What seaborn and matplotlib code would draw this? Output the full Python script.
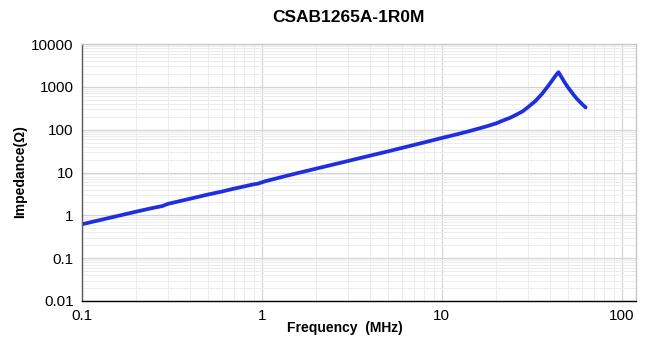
import numpy as np
import pandas as pd
import seaborn as sns
import matplotlib
matplotlib.use("Agg")
from matplotlib import pyplot as plt
from matplotlib.ticker import LogLocator, FixedLocator, FixedFormatter, NullFormatter

# impedance curve
freq_mhz = [0.1, 0.15, 0.2, 0.25, 0.28, 0.3, 0.4, 0.5, 0.6, 0.7, 0.8, 0.9,
            0.95, 1.0, 1.05, 1.5, 2, 3, 4, 5, 6, 7, 8, 10, 12, 14, 16, 18,
            20, 22, 24, 26, 28, 30, 33, 36, 39, 41, 43, 44.5, 46, 48, 50,
            53, 56, 60, 63]
impedance = [0.62, 0.92, 1.22, 1.5, 1.65, 1.85, 2.45, 3.05, 3.6, 4.2, 4.75,
             5.3, 5.5, 5.9, 6.3, 9.2, 12.3, 18.5, 24.8, 31, 37.5, 44, 50.5,
             64, 77, 91, 106, 122, 140, 165, 190, 225, 265, 330, 460, 680,
             1050, 1400, 1850, 2200, 1750, 1300, 1000, 720, 540, 400, 330]

x_ticks = [0.1, 1, 10, 100]
x_labels = ["0.1", "1", "10", "100"]
y_ticks = [0.01, 0.1, 1, 10, 100, 1000, 10000]
y_labels = ["0.01", "0.1", "1", "10", "100", "1000", "10000"]

df = pd.DataFrame({"Frequency": freq_mhz, "Impedance": impedance})

sns.set_style("white")
plt.rcParams["font.family"] = ["Liberation Sans", "DejaVu Sans"]

fig = plt.figure(figsize=(6.48, 3.41), dpi=100)
ax = fig.add_axes([82 / 648, 1 - 301 / 341, (636 - 82) / 648, (301 - 44) / 341])

sns.lineplot(data=df, x="Frequency", y="Impedance", ax=ax,
             color="#1f2fe0", linewidth=2.7, solid_capstyle="round",
             solid_joinstyle="round")

ax.set_xscale("log")
ax.set_yscale("log")
ax.set_xlim(0.1, 120)
ax.set_ylim(0.01, 10000)

ax.xaxis.set_major_locator(FixedLocator(x_ticks))
ax.xaxis.set_major_formatter(FixedFormatter(x_labels))
ax.yaxis.set_major_locator(FixedLocator(y_ticks))
ax.yaxis.set_major_formatter(FixedFormatter(y_labels))
ax.xaxis.set_minor_locator(LogLocator(base=10, subs=np.arange(2, 10), numticks=20))
ax.yaxis.set_minor_locator(LogLocator(base=10, subs=np.arange(2, 10), numticks=20))
ax.xaxis.set_minor_formatter(NullFormatter())
ax.yaxis.set_minor_formatter(NullFormatter())

ax.grid(which="major", color="#d4d4d4", linewidth=0.9)
ax.grid(which="minor", color="#ececec", linewidth=0.7)
ax.set_axisbelow(True)
ax.tick_params(which="both", length=0, labelsize=11, colors="black", pad=6)

ax.spines["left"].set_color("#5a5a5a")
ax.spines["bottom"].set_color("black")
ax.spines["top"].set_color("#c8c8c8")
ax.spines["right"].set_color("#c8c8c8")
for s in ax.spines.values():
    s.set_linewidth(1.0)

ax.set_xlabel("")
ax.set_ylabel("")
fig.text(345 / 648, 1 - 328 / 341, "Frequency  (MHz)", ha="center", va="center",
         fontsize=10, fontweight="bold", color="black")
fig.text(20 / 648, 1 - 172 / 341, "Impedance(Ω)", ha="center", va="center",
         rotation=90, fontsize=10, fontweight="bold", color="black")
fig.text(348 / 648, 1 - 18 / 341, "CSAB1265A-1R0M", ha="center", va="center",
         fontsize=12.5, fontweight="bold", color="black")

fig.savefig("out.png", dpi=100)
